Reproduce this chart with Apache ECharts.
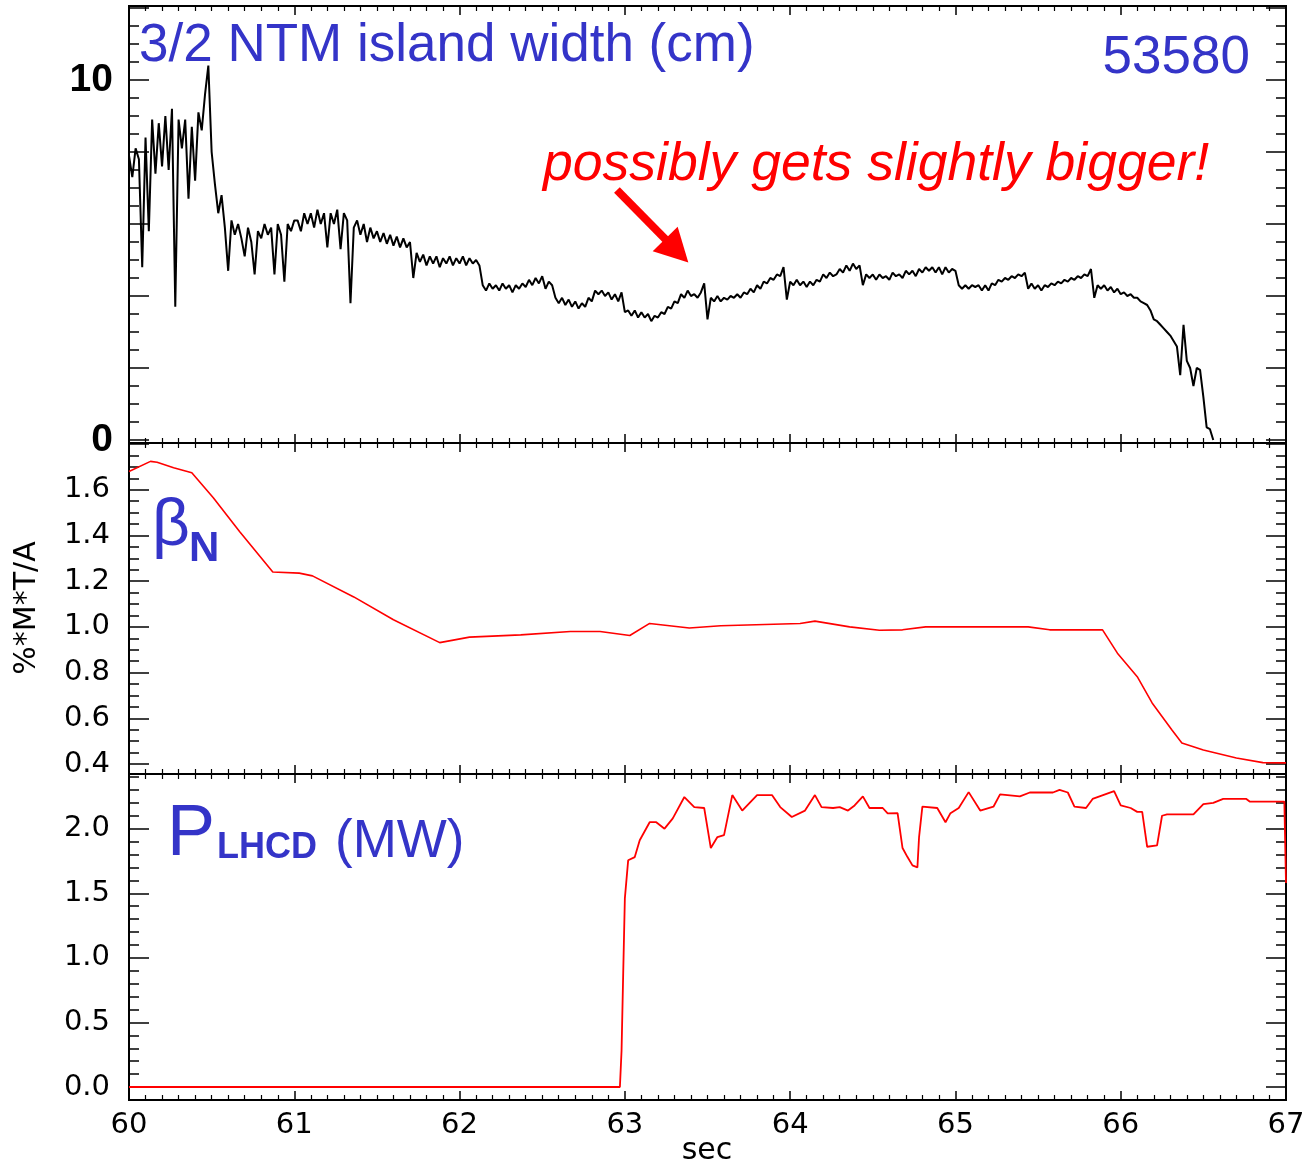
<!DOCTYPE html>
<html><head><meta charset="utf-8">
<script src="https://cdn.jsdelivr.net/npm/echarts@6/dist/echarts.min.js"></script>
<style>html,body{margin:0;padding:0;background:#fff}#c{width:1308px;height:1167px}</style>
</head><body><div id="c"></div>
<script>
// ---------------- DATA ----------------
// 3/2 NTM island width (cm), sampled every 0.02 s starting at 60.00 s
const islandT0 = 60.0;
const islandDt = 0.02;
const islandWidth = [
  // 60.00 - 60.50
  7.9, 7.3, 8.1, 7.8, 4.8, 8.4, 5.8, 8.9, 7.4, 8.8, 7.6, 9.0, 7.5, 9.2, 3.7, 8.9, 8.1, 8.9, 6.7, 8.7, 7.2, 9.1, 8.6, 9.6, 10.4, 8.0,
  // 60.52 - 61.00
  7.1, 6.3, 6.8, 5.9, 4.7, 6.1, 5.7, 6.0, 5.6, 5.1, 5.9, 5.5, 4.6, 5.8, 5.6, 6.0, 5.7, 5.9, 4.6, 6.0, 5.7, 4.4, 6.0, 5.8, 6.1,
  // 61.02 - 61.50
  6.1, 5.8, 6.3, 6.0, 6.3, 5.9, 6.4, 6.0, 6.3, 5.35, 6.3, 6.0, 6.4, 5.3, 6.3, 6.1, 3.8, 5.9, 6.1, 5.7, 6.0, 5.5, 5.9, 5.6, 5.8,
  // 61.52 - 62.20
  5.5, 5.75, 5.45, 5.7, 5.4, 5.65, 5.35, 5.6, 5.35, 5.5, 4.5, 5.2, 4.95, 5.15, 4.85, 5.1, 4.9, 5.1, 4.8, 5.05,
  4.9, 5.1, 4.85, 5.05, 4.9, 5.1, 4.85, 5.05, 4.9, 5.0, 4.85, 4.3, 4.15, 4.35, 4.2,
  // 62.22 - 63.00
  4.3, 4.15, 4.35, 4.2, 4.3, 4.1, 4.3, 4.2, 4.35, 4.25, 4.45, 4.3, 4.5, 4.35, 4.55, 4.2, 4.4, 4.3, 3.95, 3.8,
  3.95, 3.75, 3.9, 3.7, 3.85, 3.65, 3.8, 3.7, 3.95, 3.85, 4.15, 4.05, 4.15, 4.0, 4.1, 3.9, 4.05, 3.85, 4.1, 3.55,
  // 63.02 - 63.60
  3.6, 3.45, 3.6, 3.4, 3.55, 3.4, 3.5, 3.3, 3.45, 3.4, 3.55, 3.5, 3.7, 3.65, 3.85,
  3.8, 4.05, 3.95, 4.15, 4.0, 4.05, 3.95, 4.1, 4.35, 3.35, 3.95, 3.85, 4.0, 3.85, 3.95,
  // 63.62 - 64.40
  3.9, 4.0, 3.95, 4.05, 3.95, 4.1, 4.05, 4.2, 4.1, 4.3, 4.2, 4.4, 4.35, 4.5, 4.45, 4.6, 4.55, 4.8, 3.9, 4.4,
  4.3, 4.45, 4.3, 4.4, 4.25, 4.4, 4.3, 4.45, 4.4, 4.6, 4.5, 4.65, 4.55, 4.6, 4.75, 4.65, 4.85, 4.7, 4.9, 4.75,
  // 64.42 - 65.00
  4.85, 4.3, 4.6, 4.5, 4.6, 4.45, 4.6, 4.5, 4.55, 4.45, 4.65, 4.55, 4.6, 4.5, 4.7,
  4.6, 4.7, 4.55, 4.75, 4.65, 4.8, 4.7, 4.8, 4.65, 4.8, 4.6, 4.8, 4.65, 4.75, 4.7,
  // 65.02 - 65.60
  4.3, 4.2, 4.3, 4.2, 4.3, 4.25, 4.3, 4.15, 4.3, 4.15, 4.35, 4.3, 4.45, 4.4, 4.5,
  4.45, 4.55, 4.5, 4.6, 4.55, 4.65, 4.2, 4.35, 4.2, 4.3, 4.15, 4.3, 4.25, 4.35, 4.3,
  // 65.62 - 66.20
  4.4, 4.35, 4.45, 4.4, 4.5, 4.45, 4.55, 4.5, 4.6, 4.55, 4.75, 3.95, 4.3, 4.2, 4.3,
  4.15, 4.25, 4.1, 4.2, 4.05, 4.1, 4.0, 4.05, 3.95, 3.95, 3.85, 3.8, 3.75, 3.6, 3.35,
  // 66.22 - 66.56
  3.3, 3.2, 3.1, 3.0, 2.9, 2.75, 2.6, 1.8, 3.2, 2.2, 2.0, 1.5, 2.0, 1.95, 1.2, 0.35, 0.3, 0.0
];

// beta_N (%*m*T/MA)
const betaTime = [60.0, 60.13, 60.17, 60.27, 60.38, 60.51, 60.67, 60.87, 61.03, 61.11, 61.36, 61.60, 61.88, 62.06, 62.37, 62.67, 62.85, 63.03, 63.15, 63.39, 63.58, 64.06, 64.15, 64.36, 64.54, 64.68, 64.82, 65.44, 65.57, 65.89, 65.98, 66.10, 66.19, 66.31, 66.37, 66.50, 66.70, 66.86, 67.0];
const betaN = [1.68, 1.724, 1.72, 1.696, 1.674, 1.565, 1.416, 1.24, 1.235, 1.223, 1.131, 1.031, 0.931, 0.955, 0.965, 0.98, 0.98, 0.962, 1.015, 0.995, 1.005, 1.015, 1.025, 1.0, 0.985, 0.987, 1.0, 1.0, 0.987, 0.987, 0.885, 0.782, 0.667, 0.549, 0.492, 0.461, 0.426, 0.406, 0.405];

// P_LHCD (MW)
const lhcdTime = [60.0, 62.97, 62.98, 62.99, 63.0, 63.02, 63.06, 63.09, 63.15, 63.19, 63.24, 63.29, 63.36, 63.42, 63.48, 63.52, 63.56, 63.6, 63.65, 63.71, 63.8, 63.89, 63.94, 64.01, 64.09, 64.15, 64.19, 64.26, 64.3, 64.35, 64.39, 64.44, 64.48, 64.56, 64.59, 64.65, 64.68, 64.71, 64.74, 64.77, 64.78, 64.8, 64.89, 64.94, 64.97, 65.02, 65.08, 65.15, 65.23, 65.27, 65.39, 65.45, 65.59, 65.63, 65.68, 65.72, 65.79, 65.83, 65.96, 66.0, 66.06, 66.1, 66.13, 66.16, 66.22, 66.25, 66.28, 66.36, 66.44, 66.5, 66.56, 66.62, 66.76, 66.78, 66.99, 67.0];
const lhcdPower = [0, 0, 0.28, 0.88, 1.46, 1.755, 1.78, 1.91, 2.05, 2.05, 2.0, 2.08, 2.245, 2.167, 2.16, 1.85, 1.935, 1.95, 2.26, 2.14, 2.26, 2.26, 2.167, 2.09, 2.14, 2.26, 2.167, 2.16, 2.167, 2.14, 2.18, 2.25, 2.16, 2.16, 2.118, 2.12, 1.85, 1.78, 1.716, 1.70, 1.935, 2.17, 2.16, 2.05, 2.12, 2.16, 2.283, 2.14, 2.17, 2.265, 2.25, 2.28, 2.28, 2.30, 2.28, 2.17, 2.16, 2.23, 2.29, 2.18, 2.16, 2.13, 2.13, 1.86, 1.87, 2.10, 2.11, 2.11, 2.11, 2.19, 2.2, 2.23, 2.23, 2.21, 2.21, 1.58];

// tick labels
const topYLabels = [0, 10];
const lhcdYTicks = [0, 0.5, 1.0, 1.5, 2.0];
const shotNumber = '53580';

// ---------------- CHART ----------------
const islandData = islandWidth.map((v, i) => [islandT0 + i * islandDt, v]);
const betaData = betaTime.map((t, i) => [t, betaN[i]]);
const lhcdData = lhcdTime.map((t, i) => [t, lhcdPower[i]]);

const BLUE = '#3434c8';
const RED = '#ff0000';
const TICKFONT = 'DejaVu Sans';
const TICKSIZE = 29;
const L = 129, W = 1157;
const frames = [{ top: 6, height: 437 }, { top: 443, height: 331 }, { top: 774, height: 326 }];
const datas = [{ top: 8, height: 432 }, { top: 444, height: 320 }, { top: 777, height: 310 }];

const grids = frames.map(f => ({ left: L, width: W, top: f.top, height: f.height, show: true, borderColor: '#000', borderWidth: 2, backgroundColor: 'transparent', outerBoundsMode: 'none', containLabel: false }))
  .concat(datas.map(d => ({ left: L, width: W, top: d.top, height: d.height, show: false, outerBoundsMode: 'none', containLabel: false })));

function frameX(gi, pos, showLabels) {
  return {
    type: 'value', gridIndex: gi, position: pos, min: 60, max: 67, interval: 1,
    axisLine: { show: false, onZero: false }, splitLine: { show: false },
    axisTick: { show: true, inside: true, length: 9, lineStyle: { color: '#000', width: 1.5 } },
    minorTick: { show: true, splitNumber: 10, length: 5, lineStyle: { color: '#000', width: 1.2 } },
    axisLabel: { show: showLabels, color: '#000', fontFamily: TICKFONT, fontSize: TICKSIZE, margin: 11, formatter: v => String(v) }
  };
}
const xAxes = [
  frameX(0, 'bottom', false), frameX(0, 'top', false),
  frameX(1, 'bottom', false), frameX(1, 'top', false),
  frameX(2, 'bottom', true), frameX(2, 'top', false),
  { type: 'value', gridIndex: 3, min: 60, max: 67, show: false, axisLine: { onZero: false } },
  { type: 'value', gridIndex: 4, min: 60, max: 67, show: false, axisLine: { onZero: false } },
  { type: 'value', gridIndex: 5, min: 60, max: 67, show: false, axisLine: { onZero: false } }
];

function yAx(gi, pos, o) {
  const base = {
    type: 'value', gridIndex: gi, position: pos,
    axisLine: { show: false, onZero: false }, splitLine: { show: false },
    axisTick: { show: true, inside: true, length: 20, lineStyle: { color: '#000', width: 1.5 } },
    minorTick: { show: false },
    axisLabel: { show: false }
  };
  return Object.assign(base, o);
}
const minor = (n) => ({ show: true, splitNumber: n, length: 10, lineStyle: { color: '#000', width: 1.5 } });
const midLabel = { show: true, color: '#000', fontFamily: TICKFONT, fontSize: TICKSIZE, margin: 19, showMaxLabel: false, formatter: v => (v > 1.75 ? '' : v.toFixed(1)) };

const yAxes = [
  { type: 'value', gridIndex: 0, show: false, min: 0, max: 1 },
  { type: 'value', gridIndex: 1, show: false, min: 0, max: 1 },
  { type: 'value', gridIndex: 2, show: false, min: 0, max: 1 },
  // top panel
  yAx(3, 'left', { min: 0, max: 12, interval: 2, minorTick: minor(4),
    axisLabel: { show: true, color: '#000', fontFamily: 'Liberation Sans', fontWeight: 'bold', fontSize: 39, margin: 16,
      formatter: v => (topYLabels.indexOf(v) >= 0 ? String(v) : '') } }),
  yAx(3, 'right', { min: 0, max: 12, interval: 2, minorTick: minor(4) }),
  // middle panel
  yAx(4, 'left', { min: 0.4, max: 1.8, interval: 0.2, minorTick: minor(4), axisLabel: midLabel }),
  yAx(4, 'right', { min: 0.4, max: 1.8, interval: 0.2, minorTick: minor(4) }),
  // bottom panel: major (labelled) and minor axes
  yAx(5, 'left', { min: 0, max: 2.4, interval: 0.5,
    axisTick: { show: true, inside: true, length: 20, customValues: lhcdYTicks, lineStyle: { color: '#000', width: 1.5 } },
    axisLabel: { show: true, customValues: lhcdYTicks, color: '#000', fontFamily: TICKFONT, fontSize: TICKSIZE, margin: 19,
      formatter: v => (lhcdYTicks.indexOf(v) >= 0 ? v.toFixed(1) : '') } }),
  yAx(5, 'left', { min: 0, max: 2.4, interval: 0.1, axisTick: { show: true, inside: true, length: 10, lineStyle: { color: '#000', width: 1.5 } } }),
  yAx(5, 'right', { min: 0, max: 2.4, interval: 0.5,
    axisTick: { show: true, inside: true, length: 20, customValues: lhcdYTicks, lineStyle: { color: '#000', width: 1.5 } } }),
  yAx(5, 'right', { min: 0, max: 2.4, interval: 0.1, axisTick: { show: true, inside: true, length: 10, lineStyle: { color: '#000', width: 1.5 } } })
];

// annotation arrow (data coordinates of the top panel)
const arrowFrom = [62.952, 6.944];
const arrowTo = [63.314, 5.256];

const option = {
  animation: false,
  backgroundColor: '#fff',
  grid: grids,
  xAxis: xAxes,
  yAxis: yAxes,
  series: [
    { type: 'line', xAxisIndex: 6, yAxisIndex: 3, data: islandData, symbol: 'none', showSymbol: false,
      lineStyle: { color: '#000', width: 2 }, z: 3,
      markLine: { silent: true, animation: false, symbol: ['none', 'triangle'], symbolSize: [35, 33],
        label: { show: false }, lineStyle: { color: RED, width: 8, type: 'solid' },
        data: [[{ coord: arrowFrom }, { coord: arrowTo }]] } },
    { type: 'line', xAxisIndex: 7, yAxisIndex: 5, data: betaData, symbol: 'none', showSymbol: false,
      lineStyle: { color: RED, width: 1.6 } },
    { type: 'line', xAxisIndex: 8, yAxisIndex: 7, data: lhcdData, symbol: 'none', showSymbol: false, clip: false,
      lineStyle: { color: RED, width: 1.8 } }
  ],
  graphic: [
    { type: 'text', x: 139, y: 46, style: { text: '3/2 NTM island width (cm)', font: '53px "Liberation Sans"', fill: BLUE, align: 'left', verticalAlign: 'middle' } },
    { type: 'text', x: 1250, y: 58, style: { text: shotNumber, font: '53px "Liberation Sans"', fill: BLUE, align: 'right', verticalAlign: 'middle' } },
    { type: 'text', x: 543, y: 165, style: { text: 'possibly gets slightly bigger!', font: 'italic 53.5px "Liberation Sans"', fill: RED, align: 'left', verticalAlign: 'middle' } },
    { type: 'text', x: 152, y: 527, style: { text: 'β', font: '66px "Liberation Sans"', fill: BLUE, align: 'left', verticalAlign: 'middle' } },
    { type: 'text', x: 189, y: 549, style: { text: 'N', font: 'bold 42px "Liberation Sans"', fill: BLUE, align: 'left', verticalAlign: 'middle' } },
    { type: 'text', x: 167, y: 835, style: { text: 'P', font: '72px "Liberation Sans"', fill: BLUE, align: 'left', verticalAlign: 'middle' } },
    { type: 'text', x: 217, y: 848, style: { text: 'LHCD', font: 'bold 36px "Liberation Sans"', fill: BLUE, align: 'left', verticalAlign: 'middle' } },
    { type: 'text', x: 335, y: 842, style: { text: '(MW)', font: '53px "Liberation Sans"', fill: BLUE, align: 'left', verticalAlign: 'middle' } },
    { type: 'text', x: 707, y: 1151, style: { text: 'sec', font: '30px "DejaVu Sans"', fill: '#000', align: 'center', verticalAlign: 'middle' } },
    { type: 'text', x: 27, y: 608, rotation: Math.PI / 2, style: { text: '%*M*T/A', font: '30px "DejaVu Sans"', fill: '#000', align: 'center', verticalAlign: 'middle' } }
  ]
};

const chart = echarts.init(document.getElementById('c'), null, { renderer: 'canvas' });
chart.setOption(option);
</script>
</body></html>
